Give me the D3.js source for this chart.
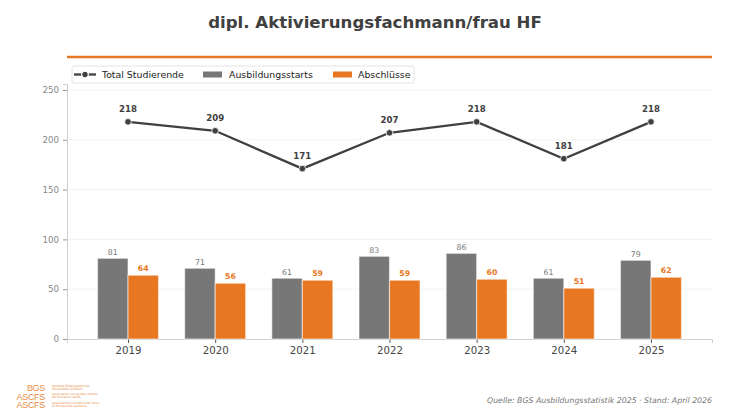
<!DOCTYPE html>
<html>
<head>
<meta charset="utf-8">
<script src="https://cdn.jsdelivr.net/npm/d3@7"></script>
<style>
  body { margin: 0; background: #fff; }
  svg { font-family: "DejaVu Sans", sans-serif; }
</style>
</head>
<body>
<div id="chart"></div>
<script>
// data
const years = ["2019", "2020", "2021", "2022", "2023", "2024", "2025"];
const totalStudierende = [218, 209, 171, 207, 218, 181, 218];
const ausbildungsstarts = [81, 71, 61, 83, 86, 61, 79];
const abschluesse = [64, 56, 59, 59, 60, 51, 62];
const yTicks = [0, 50, 100, 150, 200, 250];

const W = 750, H = 413;
const plot = { left: 67, right: 712, top: 84, bottom: 339 };

let colorLine = "#404040";
let colorStarts = "#777777";
let colorAbschl = "#e87722";

const svg = d3.select("#chart").append("svg")
    .attr("width", W)
    .attr("height", H);

// title
svg.append("text")
    .attr("x", W / 2).attr("y", 28)
    .attr("text-anchor", "middle")
    .attr("font-size", 16.6).attr("font-weight", "bold")
    .attr("fill", "#404040")
    .text("dipl. Aktivierungsfachmann/frau HF");

svg.append("line")
    .attr("x1", plot.left).attr("x2", plot.right)
    .attr("y1", 57).attr("y2", 57)
    .attr("stroke", colorAbschl).attr("stroke-width", 2.5);

// scales (index based, bars at -0.35..0.35)
const xScale = d3.scaleLinear().domain([-0.7, 6.7]).range([plot.left, plot.right]);
const yScale = d3.scaleLinear().domain([0, 256]).range([plot.bottom, plot.top]);
const barW = xScale(0.35) - xScale(0);

// grid
svg.append("g").selectAll("line")
    .data(yTicks.slice(1))
    .enter().append("line")
    .attr("x1", plot.left).attr("x2", plot.right)
    .attr("y1", d => yScale(d)).attr("y2", d => yScale(d))
    .attr("stroke", "#efefef").attr("stroke-width", 0.8);

// axes
const yAxis = svg.append("g")
    .attr("transform", `translate(${plot.left},0)`)
    .call(d3.axisLeft(yScale).tickValues(yTicks).tickSize(4).tickPadding(4));
yAxis.select(".domain").attr("stroke", "#d0d0d0");
yAxis.selectAll(".tick line").attr("stroke", "#999");
yAxis.selectAll("text").attr("fill", "#888").attr("font-size", 8.7)
    .attr("font-family", "DejaVu Sans");

const xAxis = svg.append("g")
    .attr("transform", `translate(0,${plot.bottom})`)
    .call(d3.axisBottom(xScale).tickValues(d3.range(years.length))
        .tickFormat(i => years[i]).tickSize(4).tickPadding(4));
xAxis.select(".domain").attr("stroke", "#d0d0d0");
xAxis.selectAll(".tick line").attr("stroke", "#555");
xAxis.selectAll("text").attr("fill", "#444").attr("font-size", 10.2)
    .attr("font-family", "DejaVu Sans");

// bars
svg.append("g").selectAll("rect")
    .data(ausbildungsstarts)
    .enter().append("rect")
    .attr("x", (d, i) => xScale(i - 0.35))
    .attr("y", d => yScale(d))
    .attr("width", barW)
    .attr("height", d => yScale(0) - yScale(d))
    .attr("fill", colorStarts)
    .attr("stroke", "#ffffff").attr("stroke-opacity", 0.5).attr("stroke-width", 1.2);

svg.append("g").selectAll("rect")
    .data(abschluesse)
    .enter().append("rect")
    .attr("x", (d, i) => xScale(i))
    .attr("y", d => yScale(d))
    .attr("width", barW)
    .attr("height", d => yScale(0) - yScale(d))
    .attr("fill", colorAbschl)
    .attr("stroke", "#ffffff").attr("stroke-opacity", 0.5).attr("stroke-width", 1.2);

// bar labels
svg.append("g").selectAll("text")
    .data(ausbildungsstarts)
    .enter().append("text")
    .attr("x", (d, i) => xScale(i - 0.175))
    .attr("y", d => yScale(d) - 3)
    .attr("text-anchor", "middle")
    .attr("font-size", 7.8).attr("fill", "#777")
    .text(d => d);

svg.append("g").selectAll("text")
    .data(abschluesse)
    .enter().append("text")
    .attr("x", (d, i) => xScale(i + 0.175))
    .attr("y", d => yScale(d) - 4)
    .attr("text-anchor", "middle")
    .attr("font-size", 7.8).attr("font-weight", "bold").attr("fill", colorAbschl)
    .text(d => d);

// line
const line = d3.line()
    .x((d, i) => xScale(i))
    .y(d => yScale(d));

svg.append("path")
    .datum(totalStudierende)
    .attr("d", line)
    .attr("fill", "none")
    .attr("stroke", colorLine).attr("stroke-width", 2.3);

svg.append("g").selectAll("circle")
    .data(totalStudierende)
    .enter().append("circle")
    .attr("cx", (d, i) => xScale(i))
    .attr("cy", d => yScale(d))
    .attr("r", 3.3)
    .attr("fill", colorLine)
    .attr("stroke", "#fff").attr("stroke-width", 0.8);

svg.append("g").selectAll("text")
    .data(totalStudierende)
    .enter().append("text")
    .attr("x", (d, i) => xScale(i))
    .attr("y", d => yScale(d) - 10)
    .attr("text-anchor", "middle")
    .attr("font-size", 8.6).attr("font-weight", "bold").attr("fill", colorLine)
    .text(d => d);

// legend
const legend = svg.append("g").attr("transform", "translate(72,66)");
legend.append("rect")
    .attr("width", 342).attr("height", 17).attr("rx", 2)
    .attr("fill", "#fff").attr("stroke", "#dddddd").attr("stroke-width", 0.8);
legend.append("line")
    .attr("x1", 2).attr("x2", 24).attr("y1", 8.5).attr("y2", 8.5)
    .attr("stroke", colorLine).attr("stroke-width", 2.3);
legend.append("circle").attr("cx", 13).attr("cy", 8.5).attr("r", 3.3)
    .attr("fill", colorLine).attr("stroke", "#fff").attr("stroke-width", 1.2);
legend.append("text").attr("x", 30).attr("y", 12).attr("font-size", 9.4)
    .attr("fill", "#222").text("Total Studierende");
legend.append("rect").attr("x", 131).attr("y", 5.5).attr("width", 19).attr("height", 6)
    .attr("fill", colorStarts);
legend.append("text").attr("x", 157).attr("y", 12).attr("font-size", 9.4)
    .attr("fill", "#222").text("Ausbildungsstarts");
legend.append("rect").attr("x", 261).attr("y", 5.5).attr("width", 19).attr("height", 6)
    .attr("fill", colorAbschl);
legend.append("text").attr("x", 286).attr("y", 12).attr("font-size", 9.4)
    .attr("fill", "#222").text("Abschlüsse");

// footer
svg.append("text")
    .attr("x", plot.right).attr("y", 403)
    .attr("text-anchor", "end")
    .attr("font-size", 7.8).attr("font-style", "italic").attr("fill", "#777")
    .text("Quelle: BGS Ausbildungsstatistik 2025 · Stand: April 2026");

// logo
const logo = svg.append("g").attr("fill", colorAbschl).attr("opacity", 0.85);
const logoWords = ["BGS", "ASCFS", "ASCFS"];
const logoSmall = [
    ["Verband Bildungszentren", "Gesundheit Schweiz"],
    ["Association suisse des centres", "de formation santé"],
    ["Associazione svizzera dei centri", "di formazione sanitaria"]
];
logoWords.forEach((w, i) => {
    logo.append("text")
        .attr("x", 45).attr("y", 391 + i * 8.5)
        .attr("text-anchor", "end")
        .attr("font-size", 9).attr("font-family", "Liberation Sans Narrow, Liberation Sans")
        .attr("letter-spacing", -0.3)
        .text(w);
    logoSmall[i].forEach((s, j) => {
        logo.append("text")
            .attr("x", 52).attr("y", 386.5 + i * 8.5 + j * 3.2)
            .attr("font-size", 3)
            .text(s);
    });
});
</script>
</body>
</html>
